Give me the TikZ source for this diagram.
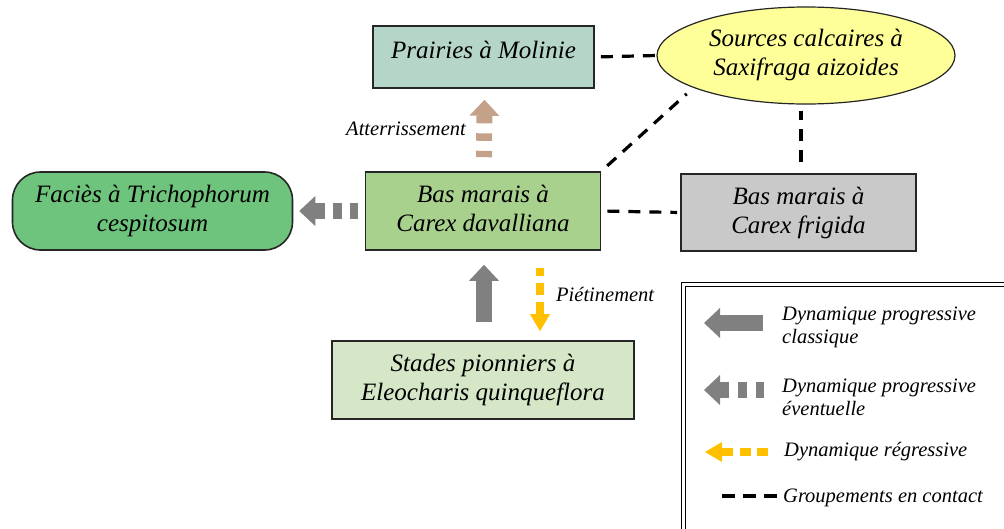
\documentclass[tikz,border=0pt]{standalone}
\usepackage{fontspec}
\setmainfont{Liberation Serif}
\usetikzlibrary{arrows.meta,shapes.geometric}
\definecolor{cPrairie}{RGB}{180,213,200}
\definecolor{cSource}{RGB}{255,255,153}
\definecolor{cDav}{RGB}{169,209,142}
\definecolor{cFacies}{RGB}{110,196,124}
\definecolor{cFrigida}{RGB}{201,201,201}
\definecolor{cStades}{RGB}{214,231,199}
\definecolor{cTan}{RGB}{196,161,137}
\definecolor{cGray}{RGB}{128,128,128}
\definecolor{cYellow}{RGB}{255,192,0}
\definecolor{cBorder}{RGB}{38,38,38}
\begin{document}
\begin{tikzpicture}[x=1pt,y=-1pt,
  habitat/.style={draw=cBorder, line width=1.6pt, align=center, inner sep=0pt,
    font=\fontsize{25}{29}\selectfont\itshape},
  contact/.style={draw=black, line width=3.2pt, dash pattern=on 12pt off 9pt},
  bigtip/.style={arrows={Triangle[width=30pt,length=16pt,line width=0pt]-}},
  smalltip/.style={arrows={Triangle[width=20pt,length=17pt,line width=0pt]-}},
  classic/.style={draw=cGray, line width=16pt, bigtip},
  eventual/.style={draw=cGray, line width=16pt, bigtip, dash pattern=on 9.5pt off 8pt},
  landing/.style={draw=cTan, line width=16pt, bigtip, dash pattern=on 7.5pt off 10pt},
  regress/.style={draw=cYellow, line width=8pt, smalltip, dash pattern=on 12pt off 7pt},
  lbl/.style={inner sep=0pt, font=\fontsize{20.5}{23}\selectfont\itshape},
  legtext/.style={inner sep=0pt, align=left, anchor=west, font=\fontsize{20.5}{23}\selectfont\itshape}
]
\useasboundingbox (0,0) rectangle (1004,528);

% habitats
\node[habitat, fill=cPrairie, minimum width=221pt, minimum height=62pt, text height=17pt, text depth=15pt] (prairies) at (483.5,57) {Prairies à Molinie};
\node[habitat, ellipse, fill=cSource, line width=1.2pt, minimum width=298pt, minimum height=97pt, yshift=0pt] (sources) at (806,55.5) {\raisebox{3pt}{\begin{tabular}{@{}c@{}}Sources calcaires à\\Saxifraga aizoides\end{tabular}}};
\node[habitat, fill=cDav, minimum width=235pt, minimum height=78pt] (dav) at (483,211) {\raisebox{2pt}{\begin{tabular}{@{}c@{}}Bas marais à\\Carex davalliana\end{tabular}}};
\node[habitat, fill=cFacies, rounded corners=28pt, minimum width=280pt, minimum height=78pt] (facies) at (152.5,211) {Faciès à Trichophorum\\cespitosum};
\node[habitat, fill=cFrigida, minimum width=235pt, minimum height=77pt] (frigida) at (798.5,212.5) {Bas marais à\\Carex frigida};
\node[habitat, fill=cStades, minimum width=302pt, minimum height=78pt] (stades) at (483,380) {Stades pionniers à\\Eleocharis quinqueflora};

% contacts
\draw[contact, shorten <=6pt] (prairies.east) -- (sources.west);
\draw[contact, shorten <=8pt, shorten >=9pt] (dav.north east) -- (sources.196);
\draw[contact, shorten <=11pt, shorten >=6pt] ([xshift=2.5pt]frigida.north) -- ([xshift=2.5pt]frigida.north |- sources.south);
\draw[contact, shorten <=6pt, shorten >=3pt] (dav.east) -- (frigida.west);

% dynamics
\draw[classic] ([xshift=1pt,yshift=-14pt]dav.south) -- ([xshift=1pt,yshift=18pt]stades.north);
\draw[regress] ([xshift=57pt,yshift=9pt]stades.north) -- ([xshift=57pt,yshift=-17pt]dav.south);
\draw[landing] ([xshift=1pt,yshift=-11pt]prairies.south) -- ([xshift=1pt,yshift=14pt]dav.north);
\draw[eventual] ([xshift=6pt]facies.east) -- ([xshift=-6.5pt]dav.west);

\node[lbl, anchor=base east] (atterr) at (466,135) {Atterrissement};
\node[lbl, anchor=base west] (pietin) at (556,301) {Piétinement};

% legend frame
\draw[line width=1.5pt] (1010,282.5) -- (681.5,282.5) -- (681.5,535);
\draw[line width=1.5pt] (1010,286.5) -- (685.5,286.5) -- (685.5,535);

\coordinate (l1a) at (704,323); \coordinate (l1b) at (763,323);
\coordinate (l2a) at (704,390); \coordinate (l2b) at (764,390);
\coordinate (l3a) at (705,452); \coordinate (l3b) at (769,452);
\coordinate (l4a) at (722,496); \coordinate (l4b) at (777,496);
\draw[classic] (l1a) -- (l1b);
\draw[eventual, dash pattern=on 9pt off 9pt] (l2a) -- (l2b);
\draw[regress, line width=8pt, dash pattern=on 11pt off 6.5pt] (l3a) -- (l3b);
\draw[line width=3.2pt, dash pattern=on 13pt off 8pt] (l4a) -- (l4b);

\node[legtext] (t1) at (782,327) {Dynamique progressive\\classique};
\node[legtext] (t2) at (782,397) {Dynamique progressive\\éventuelle};
\node[legtext, anchor=base west] (t3) at (784,456) {Dynamique régressive};
\node[legtext, anchor=base west] (t4) at (783,502) {Groupements en contact};
\end{tikzpicture}
\end{document}
